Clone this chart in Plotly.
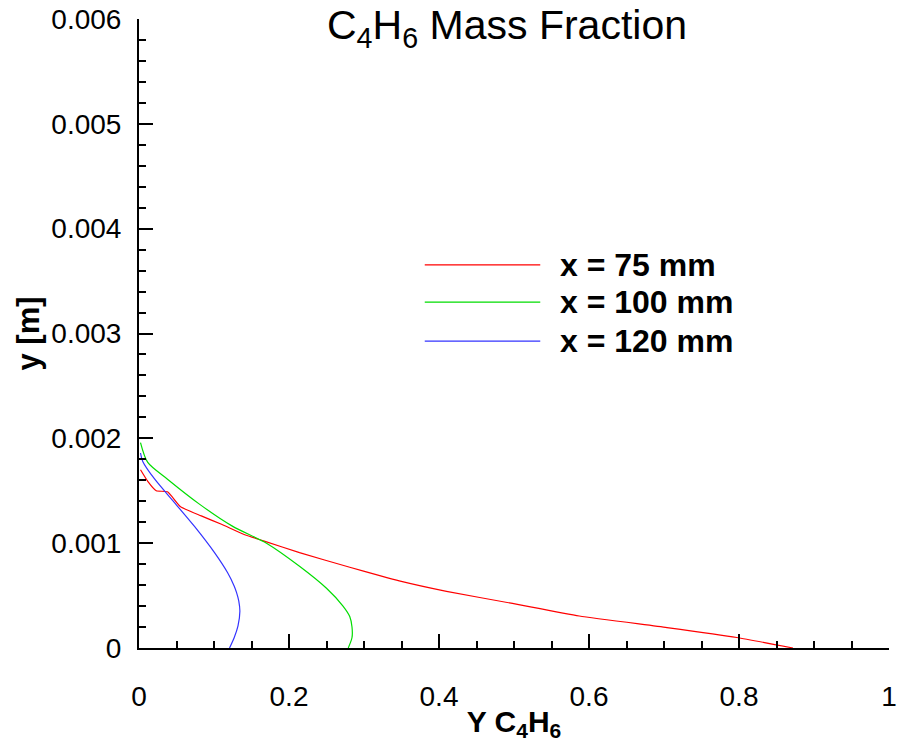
import plotly.graph_objects as go

# ---- data ----
series_names = ["x = 75 mm", "x = 100 mm", "x = 120 mm"]
series_colors = ["#ff0000", "#00dd00", "#3333ff"]

red_x = [0.872, 0.797, 0.704, 0.587, 0.498, 0.41, 0.347, 0.321, 0.281, 0.214, 0.167, 0.141,
         0.11, 0.083, 0.055, 0.038, 0.023, 0.0117, 0.002]
red_y = [0.0, 0.0001, 0.000195, 0.000305, 0.000425, 0.00054, 0.00064, 0.00069, 0.00077, 0.00091, 0.00102, 0.00108,
         0.00118, 0.00126, 0.00135, 0.00149, 0.0015, 0.00159, 0.0017]

green_x = [0.279, 0.284, 0.284, 0.281, 0.272, 0.25, 0.214, 0.17, 0.125, 0.081, 0.038, 0.0117, 0.002]
green_y = [0.0, 0.0001, 0.0002, 0.0003, 0.0004, 0.00057, 0.00078, 0.001, 0.00116, 0.00137, 0.00161, 0.00177, 0.00196]

blue_x = [0.1207, 0.127, 0.132, 0.1345, 0.133, 0.13, 0.127, 0.118, 0.1007, 0.074, 0.047, 0.021, 0.005, 0.002]
blue_y = [0.0, 0.0001, 0.00021, 0.00035, 0.00045, 0.00053, 0.00059, 0.00072, 0.00091, 0.00116, 0.00139, 0.00161, 0.00178, 0.00186]

xs = [red_x, green_x, blue_x]
ys = [red_y, green_y, blue_y]
smooth = [0.5, 0.8, 0.8]

FONT = "Arial, Liberation Sans, sans-serif"

fig = go.Figure()
for name, color, x, y, sm in zip(series_names, series_colors, xs, ys, smooth):
    fig.add_trace(go.Scatter(x=x, y=y, mode="lines", name=name,
                             line=dict(color=color, width=1.2, shape="spline", smoothing=sm),
                             showlegend=False))

# manual legend (long line samples like the reference)
legend_y = [0.609, 0.550, 0.488]
shapes = []
annotations = []
for name, color, ly in zip(series_names, series_colors, legend_y):
    shapes.append(dict(type="line", xref="paper", yref="paper", x0=0.381, x1=0.535, y0=ly, y1=ly,
                       line=dict(color=color, width=1.2)))
    annotations.append(dict(text="<b>%s</b>" % name, xref="paper", yref="paper", x=0.558, y=ly,
                            xanchor="left", yanchor="middle", showarrow=False,
                            font=dict(family=FONT, size=32, color="black")))

annotations.append(dict(text="C<sub>4</sub>H<sub>6</sub> Mass Fraction", xref="paper", yref="paper",
                        x=0.49, y=0.986, xanchor="center", yanchor="middle", showarrow=False,
                        font=dict(family=FONT, size=41, color="black")))
annotations.append(dict(text="<b>y [m]</b>", xref="paper", yref="paper", textangle=-90,
                        x=-0.148, y=0.5, xanchor="center", yanchor="middle", showarrow=False,
                        font=dict(family=FONT, size=31, color="black")))

fig.update_layout(
    width=897, height=742,
    margin=dict(l=139, r=8, t=19, b=94),
    plot_bgcolor="white", paper_bgcolor="white",
    shapes=shapes, annotations=annotations,
    font=dict(family=FONT, color="black"),
)

fig.update_xaxes(
    range=[0, 1], dtick=0.2, tickformat="~g", automargin=False,
    showgrid=False, zeroline=False,
    showline=True, linecolor="black", linewidth=2,
    ticks="inside", ticklen=14, tickwidth=2, tickcolor="black",
    minor=dict(dtick=0.05, ticks="inside", ticklen=7, tickwidth=1.5, tickcolor="black", showgrid=False),
    tickfont=dict(family=FONT, size=28),
    ticklabelstandoff=22,
    title=dict(text="<b>Y C<sub>4</sub>H<sub>6</sub></b>", font=dict(family=FONT, size=30), standoff=6),
)
fig.update_yaxes(
    range=[0, 0.006], dtick=0.001, tickformat="~g", automargin=False,
    showgrid=False, zeroline=False,
    showline=True, linecolor="black", linewidth=2,
    ticks="inside", ticklen=14, tickwidth=2, tickcolor="black",
    minor=dict(dtick=0.0002, ticks="inside", ticklen=7, tickwidth=1.5, tickcolor="black", showgrid=False),
    tickfont=dict(family=FONT, size=28),
    ticklabelstandoff=10,
)

fig.write_html("out.html")
